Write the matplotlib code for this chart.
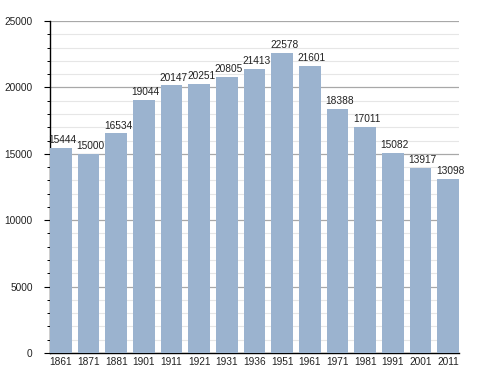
import matplotlib.pyplot as plt
from matplotlib.ticker import MultipleLocator

years = ['1861', '1871', '1881', '1901', '1911', '1921', '1931', '1936',
         '1951', '1961', '1971', '1981', '1991', '2001', '2011']
population = [15444, 15000, 16534, 19044, 20147, 20251, 20805, 21413,
              22578, 21601, 18388, 17011, 15082, 13917, 13098]

plt.rcParams['font.family'] = ['Liberation Sans', 'DejaVu Sans']

fig = plt.figure(figsize=(4.88, 3.73), dpi=100)
ax = fig.add_axes([0.1025, 0.0536, 0.838, 0.89])

x = range(len(years))
bar_w = 0.78
bars = ax.bar(x, population, width=bar_w, color='#9bb3cf', zorder=3)

# étiquettes au-dessus des barres, alignées à gauche
for xi, v in zip(x, population):
    ax.annotate(str(v), (xi - bar_w / 2, v), xytext=(-1, 2),
                textcoords='offset points', ha='left', va='bottom',
                fontsize=7.3, color='#222222', zorder=4)

ax.set_xlim(-bar_w / 2, len(years) - 1 + bar_w / 2)
ax.set_ylim(0, 25000)
ax.set_xticks(list(x))
ax.set_xticklabels(years)
ax.yaxis.set_major_locator(MultipleLocator(5000))
ax.yaxis.set_minor_locator(MultipleLocator(1000))

ax.grid(which='major', axis='y', color='#a8a8a8', linewidth=0.9, zorder=1)
ax.grid(which='minor', axis='y', color='#e6e6e6', linewidth=0.8, zorder=0)

for s in ['top', 'right']:
    ax.spines[s].set_visible(False)
ax.spines['left'].set_linewidth(1.0)
ax.spines['bottom'].set_linewidth(1.0)

ax.tick_params(axis='y', which='major', length=4.5, width=0.8, labelsize=7.3, pad=8)
ax.tick_params(axis='y', which='minor', length=2.5, width=0.7)
ax.tick_params(axis='x', length=0, labelsize=7.3, pad=3)
for lab in ax.get_xticklabels() + ax.get_yticklabels():
    lab.set_color('#222222')

fig.savefig('out.png', dpi=100)
